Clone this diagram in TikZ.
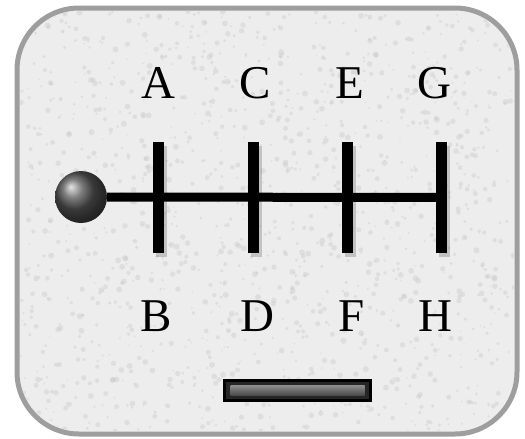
\documentclass[tikz,border=0pt]{standalone}
\usepackage{fontspec}
\setmainfont{Liberation Serif}
\usetikzlibrary{positioning,calc}
\definecolor{platefill}{gray}{0.93}
\definecolor{plateedge}{gray}{0.62}
\definecolor{speckle}{gray}{0.80}
\tikzset{
  gatelbl/.style={font=\fontsize{47}{47}\selectfont,inner sep=0pt,anchor=center},
  rail/.style={line width=11pt},
  crossrail/.style={line width=9pt},
  railshadow/.style={line width=11pt,draw=black,opacity=0.18},
}

\begin{document}
\begin{tikzpicture}[x=1pt,y=-1pt]
\useasboundingbox (0,0) rectangle (525,439);

% plate
\draw[line width=5pt,draw=plateedge,fill=platefill,rounded corners=62pt]
  (17,8) rectangle (517,434);
\begin{scope}
  \clip[rounded corners=60pt] (20,11) rectangle (514,431);
  \pgfmathsetseed{7}
  \foreach \i in {1,...,1400}
    \fill[speckle,opacity=0.45] (20+494*rnd,11+420*rnd) circle (0.8+2.2*rnd);
\end{scope}

% gate ends
\coordinate (ta) at (158,142);  \coordinate (ba) at (158,253);
\coordinate (tc) at (253,142);  \coordinate (bc) at (253,253);
\coordinate (te) at (347,142);  \coordinate (be) at (347,253);
\coordinate (tg) at (441,142);  \coordinate (bg) at (441,253);

% soft shadows
\draw[railshadow] ($(ta)+(3,4)$) -- ($(ba)+(3,4)$);
\draw[railshadow] ($(tc)+(3,4)$) -- ($(bc)+(3,4)$);
\draw[railshadow] ($(te)+(3,4)$) -- ($(be)+(3,4)$);
\draw[railshadow] ($(tg)+(3,4)$) -- ($(bg)+(3,4)$);

% knob
\node[circle,minimum size=52pt,inner sep=0pt,shading=ball,ball color=black!68]
  (knob) at (81,197) {};

% rails
\draw[crossrail] (knob.east) -- ($(tg)!0.5!(bg)$);
\draw[rail] (ta) -- (ba);
\draw[rail] (tc) -- (bc);
\draw[rail] (te) -- (be);
\draw[rail] (tg) -- (bg);

% gear letters
\node[gatelbl] (la) at (158,83) {A};
\node[gatelbl] (lc) at (255,83) {C};
\node[gatelbl] (le) at (350,83) {E};
\node[gatelbl] (lg) at (434,83) {G};
\node[gatelbl] (lb) at (156,316) {B};
\node[gatelbl] (ld) at (257,316) {D};
\node[gatelbl] (lf) at (352,316) {F};
\node[gatelbl] (lh) at (435,316) {H};

% slot
\node[draw=black,line width=3pt,fill=black!85,minimum width=146pt,
      minimum height=20pt,inner sep=0pt] (slot) at (297.5,390.5) {};
\node[minimum width=134pt,minimum height=10pt,inner sep=0pt,
      top color=black!45,bottom color=black!72] (slotbar) at (slot.center) {};
\end{tikzpicture}
\end{document}
